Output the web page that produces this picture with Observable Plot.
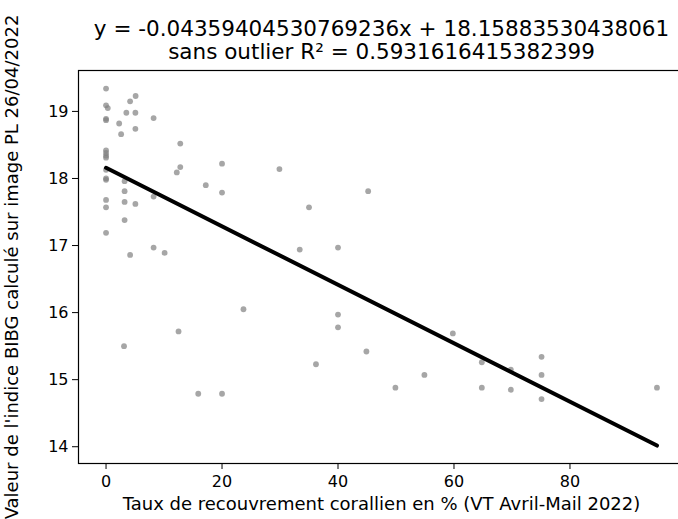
<!DOCTYPE html>
<html>
<head>
<meta charset="utf-8">
<script src="https://cdn.jsdelivr.net/npm/d3@7"></script>
<script src="https://cdn.jsdelivr.net/npm/@observablehq/plot@0.6"></script>
<style>
  html, body { margin: 0; padding: 0; background: #fff; }
  #chart svg { display: block; }
</style>
</head>
<body>
<div id="chart"></div>
<script>
// Coral cover (%) vs BIBG index
const coverPct = [
  0, 5.1, 4.15, 0, 0.3, 3.5, 5.06, 0, 0, 8.2, 2.26, 2.6, 5.06, 12.8,
  0, 0, 0, 0, 20.0, 12.8, 12.2, 0, 0, 0, 3.2, 3.2, 17.2, 20.0, 8.2,
  0, 3.2, 5.06, 0, 3.2, 0, 8.2, 10.1, 4.15, 12.5, 3.1, 15.9, 20.0,
  29.9, 45.2, 35.0, 33.4, 40.0, 23.7, 40.0, 40.0, 44.9, 36.2, 49.9,
  59.8, 54.9, 64.8, 64.8, 69.8, 69.8, 75.1, 75.1, 75.1, 95.0
];
const bibgIndex = [
  19.34, 19.23, 19.15, 19.09, 19.05, 18.98, 18.98, 18.89, 18.87, 18.90, 18.82, 18.66, 18.74, 18.52,
  18.42, 18.38, 18.34, 18.31, 18.22, 18.17, 18.09, 18.13, 18.00, 17.98, 17.96, 17.81, 17.90, 17.79, 17.73,
  17.68, 17.65, 17.62, 17.57, 17.38, 17.19, 16.97, 16.89, 16.86, 15.72, 15.50, 14.79, 14.79,
  18.14, 17.81, 17.57, 16.94, 16.97, 16.05, 15.97, 15.78, 15.42, 15.23, 14.88,
  15.69, 15.07, 15.26, 14.88, 15.15, 14.85, 15.34, 15.07, 14.71, 14.88
];
const slope = -0.04359404530769236;
const intercept = 18.15883530438061;
const r2 = 0.5931616415382399;

const xTicks = [0, 20, 40, 60, 80];
const yTicks = [14, 15, 16, 17, 18, 19];
const titleLines = [
  `y = ${slope}x + ${intercept}`,
  `sans outlier R² = ${r2}`
];
const xLabel = "Taux de recouvrement corallien en % (VT Avril-Mail 2022)";
const yLabel = "Valeur de l'indice BIBG calculé sur image PL 26/04/2022";

const points = coverPct.map((x, i) => ({x, y: bibgIndex[i]}));
const fitX = [d3.min(coverPct), d3.max(coverPct)];
const fit = fitX.map(x => ({x, y: intercept + slope * x}));

const font = "DejaVu Sans";
const chart = Plot.plot({
  width: 678,
  height: 519,
  marginTop: 70,
  marginBottom: 56,
  marginLeft: 78,
  marginRight: -6,
  style: {fontFamily: font, fontSize: "16px", color: "black", background: "white"},
  x: {domain: [-4.75, 99.75], ticks: xTicks, label: null},
  y: {domain: [13.75, 19.61], ticks: yTicks, label: null},
  marks: [
    Plot.dot(points, {x: "x", y: "y", r: 2.9, fill: "gray", fillOpacity: 0.7, stroke: "none"}),
    Plot.line(fit, {x: "x", y: "y", stroke: "black", strokeWidth: 4}),
    Plot.axisX({ticks: xTicks, tickSize: 6, tickPadding: 6, fontSize: 16, tickFormat: d => String(d), label: null}),
    Plot.axisY({ticks: yTicks, tickSize: 6, tickPadding: 4, fontSize: 16, tickFormat: d => String(d), label: null}),
    Plot.frame({stroke: "black", strokeWidth: 1.2}),
    Plot.text([titleLines[0]], {text: d => d, frameAnchor: "top", dy: -50, fontSize: 21.5, fontFamily: font, fill: "black"}),
    Plot.text([titleLines[1]], {text: d => d, frameAnchor: "top", dy: -27, fontSize: 21.5, fontFamily: font, fill: "black"}),
    Plot.text([xLabel], {text: d => d, frameAnchor: "bottom", dy: 46, fontSize: 18, fontFamily: font, fill: "black"}),
    Plot.text([yLabel], {text: d => d, frameAnchor: "left", textAnchor: "middle", dx: -66, rotate: -90, fontSize: 18, fontFamily: font, fill: "black"})
  ]
});
document.getElementById("chart").appendChild(chart);
</script>
</body>
</html>
